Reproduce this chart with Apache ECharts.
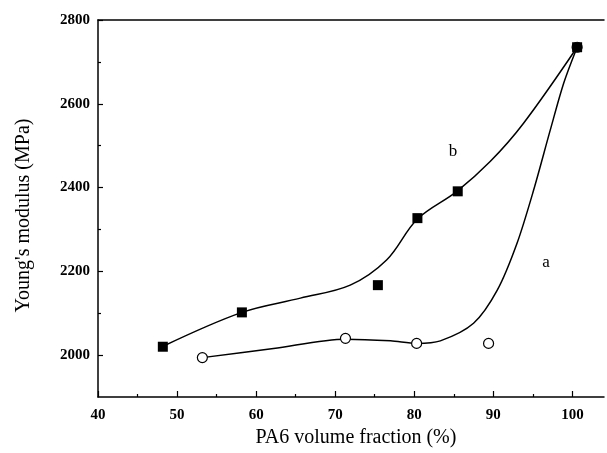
<!DOCTYPE html>
<html>
<head>
<meta charset="utf-8">
<script src="https://cdn.jsdelivr.net/npm/echarts@6/dist/echarts.min.js"></script>
<style>html,body{margin:0;padding:0;background:#fff;}#c{width:607px;height:453px;}</style>
</head>
<body>
<div id="c"></div>
<script>
// Measured points
const squaresB = [[48.2,2020],[58.2,2102],[75.4,2167],[80.4,2327],[85.5,2391],[100.6,2735]];
const circlesA = [[53.2,1994],[71.3,2040],[80.3,2028],[89.4,2028],[100.6,2735]];
// Fitted curves
const curveB = [[48.1,2020],[58.2,2102],[65.6,2136],[71.9,2167],[76.5,2227],[80.4,2325],[85.4,2391],[89.6,2462],[93.8,2553],[100.6,2735]];
const curveA = [[53.2,1994],[62.2,2016],[71.3,2038],[77.0,2034],[80.3,2028],[83.3,2034],[87.5,2076],[90.5,2155],[93.0,2267],[95.1,2394],[97.2,2537],[98.9,2649],[100.6,2735]];
const xMajor = [40,50,60,70,80,90,100];
const xMinor = [45,55,65,75,85,95];
const yMajor = [2000,2200,2400,2600,2800];
const yMinor = [2100,2300,2500,2700];

const font = 'Liberation Serif';
const chart = echarts.init(document.getElementById('c'));
const lab = {fontFamily: font, fontSize: 15, fontWeight: 'bold', color: '#000', formatter: v => String(v)};
chart.setOption({
  animation: false,
  grid: {left: 98, right: 3, top: 20, bottom: 56},
  xAxis: [
    {type: 'value', min: 40, max: 104, position: 'bottom',
     axisLine: {onZero: false, lineStyle: {color: '#000', width: 1.5}},
     axisTick: {customValues: xMajor, inside: true, length: 6, lineStyle: {color: '#000', width: 1.2}},
     axisLabel: Object.assign({customValues: xMajor, margin: 11}, lab),
     splitLine: {show: false},
     name: 'PA6 volume fraction (%)', nameLocation: 'middle', nameGap: 31,
     nameTextStyle: {fontFamily: font, fontSize: 20, color: '#000', padding: [0, 0, 0, 10]}},
    {type: 'value', min: 40, max: 104, position: 'bottom',
     axisLine: {show: false, onZero: false},
     axisTick: {customValues: xMinor, inside: true, length: 3, lineStyle: {color: '#000', width: 1.2}},
     axisLabel: {show: false}, splitLine: {show: false}},
    {type: 'value', min: 40, max: 104, position: 'top',
     axisLine: {onZero: false, lineStyle: {color: '#000', width: 1.5}},
     axisTick: {show: false}, axisLabel: {show: false}, splitLine: {show: false}}
  ],
  yAxis: [
    {type: 'value', min: 1900, max: 2800, position: 'left',
     axisLine: {onZero: false, lineStyle: {color: '#000', width: 1.5}},
     axisTick: {customValues: yMajor, inside: true, length: 5, lineStyle: {color: '#000', width: 1.2}},
     axisLabel: Object.assign({customValues: yMajor, margin: 8}, lab),
     splitLine: {show: false},
     name: "Young's modulus (MPa)", nameLocation: 'middle', nameGap: 64,
     nameTextStyle: {fontFamily: font, fontSize: 20, color: '#000', padding: [0, 14, 0, 0]}},
    {type: 'value', min: 1900, max: 2800, position: 'left',
     axisLine: {show: false, onZero: false},
     axisTick: {customValues: yMinor, inside: true, length: 3, lineStyle: {color: '#000', width: 1.2}},
     axisLabel: {show: false}, splitLine: {show: false}}
  ],
  series: [
    {type: 'line', data: curveA, smooth: 0.3, showSymbol: false, symbol: 'none',
     lineStyle: {color: '#000', width: 1.5}, z: 2},
    {type: 'line', data: curveB, smooth: 0.35, showSymbol: false, symbol: 'none',
     lineStyle: {color: '#000', width: 1.5}, z: 2},
    {type: 'scatter', data: circlesA, symbol: 'circle', symbolSize: 10,
     itemStyle: {color: '#fff', borderColor: '#000', borderWidth: 1.2, opacity: 1}, z: 3},
    {type: 'scatter', data: squaresB, symbol: 'rect', symbolSize: 10,
     itemStyle: {color: '#000', opacity: 1}, z: 4}
  ],
  graphic: [
    {type: 'text', x: 453, y: 152, style: {text: 'b', font: '17px "Liberation Serif"', fill: '#000', align: 'center', verticalAlign: 'middle'}},
    {type: 'text', x: 546, y: 263, style: {text: 'a', font: '17px "Liberation Serif"', fill: '#000', align: 'center', verticalAlign: 'middle'}}
  ]
});
</script>
</body>
</html>
